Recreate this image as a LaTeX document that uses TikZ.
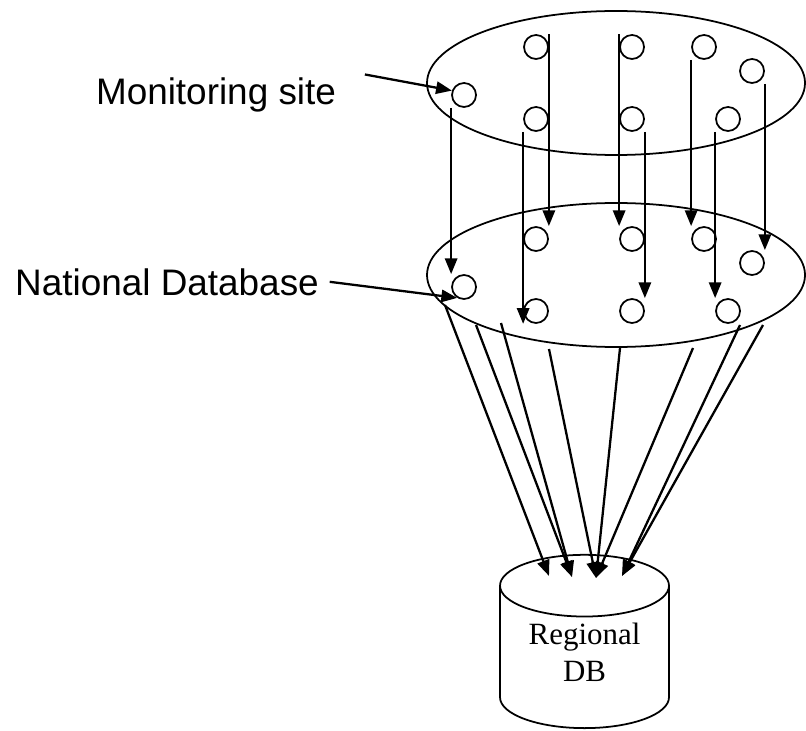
\documentclass[tikz,border=0pt]{standalone}
\usepackage{fontspec}
\setmainfont{Liberation Serif}
\setsansfont{Liberation Sans}
\usetikzlibrary{shapes.geometric,arrows.meta}

\begin{document}
\begin{tikzpicture}[
  line width=1pt,
  layer/.style={ellipse, draw, minimum width=7.56cm, minimum height=2.88cm},
  site/.style={circle, draw, minimum size=0.48cm, inner sep=0pt},
  flow/.style={line width=1.3pt, -{Triangle[length=9pt,width=7pt]}},
  tag/.style={font=\sffamily\fontsize{21}{25}\selectfont, inner sep=0pt, anchor=base},
  store/.style={cylinder, shape border rotate=90, draw, aspect=0.5,
    minimum width=3.38cm, minimum height=3.34cm, align=center, text depth=12pt,
    font=\fontsize{17.6}{21}\selectfont}
]
\useasboundingbox (0,0) rectangle (16.12,14.6);

% Layers
\node[layer] (mon) at (12.32,12.94) {};
\node[layer] (nat) at (12.32,9.1) {};

% Sites, each one copied to the national layer
\foreach \n/\x/\y in {1/9.28/12.7, 2/10.72/13.66, 3/12.64/13.66, 4/14.08/13.66,
  5/15.04/13.18, 6/10.72/12.22, 7/12.64/12.22, 8/14.56/12.22}
{
  \node[site] (t\n) at (\x,\y) {};
  \node[site] (b\n) at (\x,\y-3.84) {};
}

% Regional database
\node[store, anchor=south] (reg) at (11.69,0.02) {Regional\\DB};

% Labels
\node[tag] (monlabel) at (4.32,12.5) {Monitoring site};
\node[tag] (natlabel) at (3.34,8.7) {National Database};
\draw[flow] ([xshift=0.56cm,yshift=0.42cm]monlabel.east) -- (t1.160);
\draw[flow] ([xshift=0.2cm]natlabel.east) -- (b1.238);

% Sites to national database
\foreach \n/\side/\beg/\fin in {1/west/south/north, 2/east/north/north,
  3/west/north/north, 4/west/south/north, 5/east/south/north,
  6/west/south/south, 7/east/south/north, 8/west/south/north}
  \draw[flow] (t\n.\side |- t\n.\beg) -- (b\n.\side |- b\n.\fin);

% National database to regional database
\coordinate (s1) at (8.90,8.50);
\coordinate (s2) at (9.52,8.10);
\coordinate (s3) at (10.02,8.14);
\coordinate (s4) at (10.98,7.62);
\coordinate (s5) at (12.40,7.64);
\coordinate (s6) at (13.86,7.64);
\coordinate (s7) at (14.80,8.10);
\coordinate (s8) at (15.26,8.10);
\coordinate (e1) at ([xshift=-0.71cm,yshift=-0.44cm]reg.north);
\coordinate (e2) at ([xshift=-0.25cm,yshift=-0.46cm]reg.north);
\coordinate (e3) at ([xshift=0.23cm,yshift=-0.48cm]reg.north);
\coordinate (e4) at ([xshift=0.75cm,yshift=-0.44cm]reg.north);

\foreach \s/\e in {1/1, 2/2, 3/2, 4/3, 5/3, 6/3, 7/4, 8/4}
  \draw[flow] (s\s) -- (e\e);

\end{tikzpicture}
\end{document}
